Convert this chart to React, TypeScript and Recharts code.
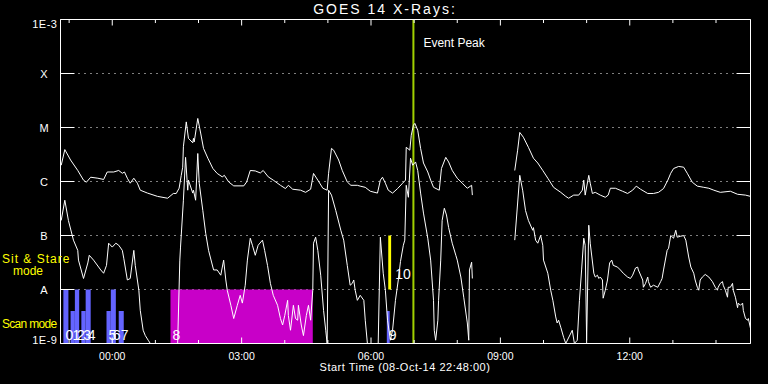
import React from "react";
import {
  LineChart,
  Line,
  XAxis,
  YAxis,
  CartesianGrid,
  ReferenceArea,
  ReferenceLine,
} from "recharts";

// time = minutes after 08-Oct-14 22:48:00, flux in W/m^2
const longChannel: [number, number | null][] = [
  [1, 2.0e-6], [6, 3.9e-6], [14, 2.5e-6], [24, 1.6e-6], [32, 1.06e-6], [36, 9.7e-7], [42, 1.2e-6],
  [52, 1.15e-6], [60, 1.09e-6], [65, 1.5e-6], [74, 1.5e-6], [81, 1.6e-6], [86, 1.42e-6], [89, 1.5e-6],
  [93, 1.15e-6], [97, 9.3e-7], [102, 1.15e-6], [107, 9.3e-7], [111, 6.9e-7], [121, 6.1e-7], [135, 5.3e-7],
  [149, 4.9e-7], [157, 6.0e-7], [161, 6.0e-7], [165, 7.5e-7], [168, 1.3e-6], [170, 1.84e-6], [171, 4.4e-6],
  [175, 1.27e-5], [178, 6.3e-6], [184, 5.2e-6], [185, 6.3e-6], [186, 5.4e-6], [191, 1.47e-5], [195, 7.9e-6],
  [199, 4.1e-6], [205, 2.7e-6], [212, 1.74e-6], [218, 1.41e-6], [225, 1.22e-6], [228, 1.3e-6], [234, 9.8e-7],
  [241, 8.3e-7], [255, 8.3e-7], [259, 9.8e-7], [264, 1.6e-6], [271, 1.57e-6], [278, 1.44e-6], [282, 1.6e-6],
  [289, 1.22e-6], [296, 1.06e-6], [306, 8.5e-7], [313, 7.4e-7], [317, 8.5e-7], [323, 7.2e-7], [334, 6.9e-7],
  [341, 6.3e-7], [348, 7.2e-7], [352, 1.41e-6], [358, 1.06e-6], [365, 7.5e-7], [371, 6.9e-7], [373, 1.42e-6],
  [377, 4.1e-6], [380, 3.8e-6], [387, 2.5e-6], [392, 1.6e-6], [399, 9.8e-7], [404, 8.5e-7], [413, 8.5e-7],
  [417, 8.2e-7], [424, 7.8e-7], [431, 6.6e-7], [441, 6.1e-7], [445, 1.06e-6], [448, 1.2e-6], [452, 9.3e-7],
  [456, 6.9e-7], [462, 6.1e-7], [469, 7.4e-7], [476, 9.3e-7], [480, 1.06e-6], [481, 4.3e-6], [486, 3.8e-6],
  [488, 7.2e-6], [491, 1.1e-5], [493, 1.19e-5], [497, 8.9e-6], [501, 4.1e-6], [505, 2.2e-6], [511, 1.5e-6],
  [515, 1.06e-6], [519, 7.8e-7], [527, 6.9e-7], [530, 1.74e-6], [536, 2.8e-6], [540, 2.3e-6], [545, 1.6e-6],
  [552, 1.15e-6], [559, 9.3e-7], [566, 7.5e-7], [572, 8.5e-7], [573, 5.6e-7], [600, null],
  [632, 1.6e-6], [636, 3.8e-6], [639, 8.1e-6], [644, 6.6e-6], [651, 4.3e-6], [658, 2.7e-6], [664, 2.2e-6],
  [671, 1.6e-6], [678, 1.15e-6], [686, 7.8e-7], [696, 6.3e-7], [703, 5.3e-7], [707, 4.9e-7], [714, 5.6e-7],
  [721, 5.6e-7], [726, 6.9e-7], [728, 1.06e-6], [730, 5.6e-7], [735, 1.3e-6], [737, 9.3e-7], [740, 6.0e-7],
  [744, 6.3e-7], [751, 5.6e-7], [758, 5.1e-7], [762, 5.6e-7], [765, 7.5e-7], [772, 7.5e-7], [782, 6.6e-7],
  [789, 6.0e-7], [796, 6.9e-7], [801, 8.2e-7], [807, 7.2e-7], [817, 6.0e-7], [825, 6.0e-7], [832, 6.3e-7],
  [839, 7.4e-7], [845, 1.06e-6], [849, 1.42e-6], [853, 1.74e-6], [860, 1.9e-6], [867, 1.84e-6], [872, 1.42e-6],
  [879, 9.7e-7], [886, 8.2e-7], [895, 7.8e-7], [902, 7.5e-7], [909, 6.9e-7], [918, 6.3e-7], [932, 6.6e-7],
  [942, 5.8e-7], [953, 5.6e-7], [960, 5.3e-7],
];

const shortChannel: [number, number | null][] = [
  [1, 1.9e-7], [6, 4.5e-7], [11, 1.9e-7], [18, 8.2e-8], [24, 5.3e-8], [25, 3.5e-8], [32, 1.6e-8], [38, 3.1e-8],
  [40, 4.3e-8], [46, 3.5e-8], [56, 2.3e-8], [60, 2.0e-8], [64, 2.8e-8], [67, 7.2e-8], [72, 6.1e-8], [77, 7.2e-8],
  [81, 6.6e-8], [86, 5.3e-8], [88, 3.8e-8], [93, 1.5e-8], [97, 1.6e-8], [102, 5.3e-8], [104, 2.8e-8], [109, 9.7e-9],
  [111, 4.1e-9], [115, 1.76e-9], [118, 1.4e-9], [122, 1.15e-9], [125, 1e-9], [163, 1e-9], [166, 3.5e-8],
  [167, 6.1e-8], [171, 4.5e-7], [174, 2.8e-6], [177, 6.9e-7], [178, 1.06e-6], [184, 6.1e-7], [185, 6.9e-7],
  [188, 4.5e-7], [191, 3.3e-6], [193, 9.3e-7], [198, 2.9e-7], [202, 1.1e-7], [206, 5.3e-8], [213, 2.3e-8],
  [218, 2.3e-8], [223, 1.84e-8], [227, 3.5e-8], [230, 1.5e-8], [232, 9.7e-9], [237, 5.1e-9], [241, 2.9e-9],
  [246, 5.1e-9], [250, 7.8e-9], [253, 5.6e-9], [257, 1.2e-8], [260, 3.5e-8], [264, 8.9e-8], [267, 6.6e-8],
  [271, 4.3e-8], [275, 6.6e-8], [281, 8.2e-8], [284, 5.3e-8], [288, 2.8e-8], [292, 1.3e-8], [296, 7.8e-9],
  [302, 5.1e-9], [306, 2.9e-9], [309, 2.2e-9], [312, 3.3e-9], [316, 6.3e-9], [317, 3.3e-9], [320, 1.76e-9],
  [324, 5.1e-9], [327, 2.9e-9], [330, 2.7e-9], [331, 5.1e-9], [335, 2.2e-9], [338, 1.4e-9], [342, 3.3e-9],
  [345, 5.1e-9], [348, 2.7e-9], [351, 9.7e-9], [352, 7.2e-8], [355, 9.3e-8], [358, 5.3e-8], [362, 1.84e-8],
  [366, 4.1e-9], [369, 1.76e-9], [371, 1e-9], [373, 6.9e-7], [377, 5.6e-7], [383, 2.9e-7], [390, 1.25e-7],
  [394, 8.2e-8], [399, 2.8e-8], [403, 1.2e-8], [406, 1.3e-8], [408, 1.5e-8], [410, 9.7e-9], [413, 6.3e-9],
  [417, 7.8e-9], [422, 6.3e-9], [424, 2.7e-9], [427, 1e-9], [442, 1e-9], [445, 9.3e-8], [449, 2.0e-8],
  [452, 9.7e-9], [455, 2.7e-9], [459, 1.15e-9], [462, 1.76e-9], [466, 6.3e-9], [470, 1.5e-8], [473, 3.3e-8],
  [477, 6.6e-8], [479, 8.2e-8], [481, 8.5e-7], [484, 5.1e-7], [487, 2.7e-6], [490, 2.0e-6], [494, 2.3e-6],
  [497, 1.6e-6], [501, 6.1e-7], [505, 2.6e-7], [511, 8.9e-8], [515, 3.5e-8], [519, 6.3e-9], [520, 1.76e-9],
  [522, 1.15e-9], [525, 2.7e-9], [526, 6.3e-9], [529, 3.5e-8], [531, 1.9e-7], [534, 3.2e-7], [537, 2.4e-7],
  [540, 1.4e-7], [545, 7.2e-8], [550, 4.3e-8], [552, 3.5e-8], [557, 1.7e-8], [561, 7.2e-9], [566, 2.4e-9],
  [568, 1.15e-9], [569, 2.3e-8], [572, 3.2e-8], [573, 1.6e-8], [600, null],
  [632, 8.2e-8], [639, 1.3e-6], [643, 6.9e-7], [647, 2.9e-7], [651, 1.9e-7], [657, 1.25e-7], [658, 1.4e-7],
  [661, 8.2e-8], [664, 7.2e-8], [668, 1.0e-7], [671, 6.6e-8], [672, 3.5e-8], [678, 2.0e-8], [682, 9.7e-9],
  [685, 6.3e-9], [689, 3.1e-9], [691, 2.4e-9], [693, 2.7e-9], [696, 2.0e-9], [700, 1.3e-9], [703, 1e-9],
  [712, 1.76e-9], [715, 1e-9], [719, 1.15e-9], [722, 6.3e-9], [725, 2.3e-8], [728, 8.9e-8], [730, 6.6e-8],
  [732, 1.15e-9], [735, 1.55e-7], [737, 7.2e-8], [742, 2.0e-8], [744, 1.7e-8], [747, 1.84e-8], [749, 1.6e-8],
  [751, 1.7e-8], [754, 1.5e-8], [755, 6.9e-9], [758, 9.7e-9], [761, 1.5e-8], [764, 3.1e-8], [767, 3.5e-8],
  [769, 2.8e-8], [775, 2.6e-8], [779, 2.3e-8], [783, 2.0e-8], [789, 1.7e-8], [793, 1.6e-8], [796, 1.84e-8],
  [800, 2.5e-8], [803, 2.6e-8], [804, 2.3e-8], [810, 1.5e-8], [811, 1.1e-8], [814, 1.3e-8], [817, 1.7e-8],
  [818, 1.4e-8], [821, 1.1e-8], [825, 1.2e-8], [831, 1.1e-8], [835, 1.4e-8], [837, 1.6e-8], [839, 2.3e-8],
  [844, 5.3e-8], [846, 5.8e-8], [849, 1.0e-7], [853, 8.9e-8], [856, 1.25e-7], [858, 9.3e-8], [863, 9.7e-8],
  [867, 1.0e-7], [870, 8.2e-8], [874, 4.0e-8], [877, 2.6e-8], [881, 2.0e-8], [883, 1.5e-8], [886, 1.1e-8],
  [888, 9.7e-9], [890, 1.5e-8], [893, 1.7e-8], [897, 1.9e-8], [902, 1.7e-8], [907, 1.4e-8], [911, 1.1e-8],
  [914, 9.7e-9], [915, 1.1e-8], [918, 1.3e-8], [921, 1.4e-8], [922, 1.2e-8], [925, 9.7e-9], [928, 7.2e-9],
  [929, 1.1e-8], [932, 1.1e-8], [935, 1.3e-8], [936, 9.7e-9], [939, 7.2e-9], [942, 4.6e-9], [943, 5.6e-9],
  [946, 5.1e-9], [949, 5.6e-9], [950, 4.1e-9], [953, 2.9e-9], [956, 2.7e-9], [957, 2.9e-9], [960, 1.9e-9],
];

// scan mode blocks (blue)
const scanStart = [4, 14, 20, 29, 35, 64, 70, 81, 454];
const scanEnd = [11, 20, 26, 35, 42, 70, 77, 88, 458];
const scanTop = [1e-8, 4e-9, 1e-8, 4e-9, 1e-8, 4e-9, 1e-8, 4e-9, 4e-9];
const scanLabels = ["0", "1", "2", "3", "4", "5", "6", "7", "9"];

// magenta block "8"
const block8 = [153, 351];
const block8Top = 1e-8;

// sit & stare block "10"
const stareSpan = [456, 460];
const stareRange = [1e-8, 1e-7];

const eventPeak = 491;

const hourTicks = [12, 72, 132, 192, 252, 312, 372, 432, 492, 552, 612, 672, 732, 792, 852, 912];
const labelledTicks = [72, 252, 432, 612, 792];
const yTicks = [1e-9, 1e-8, 1e-7, 1e-6, 1e-5, 1e-4, 1e-3];
const yLabels = ["1E-9", "A", "B", "C", "M", "X", "1E-3"];

const FONT = "'Liberation Sans', Arial, sans-serif";
const BLUE = "#6464ff";
const MAGENTA = "#c800c8";
const YELLOW = "#ffff00";
const GREEN = "#a0d000";

const longData = longChannel.map(([t, v]) => ({ t, v }));
const shortData = shortChannel.map(([t, v]) => ({ t, v }));

const clock = (m: number) => {
  const tot = (22 * 60 + 48 + m) % 1440;
  const h = Math.floor(tot / 60);
  const mm = tot % 60;
  return `${String(h).padStart(2, "0")}:${String(mm).padStart(2, "0")}`;
};

const BottomTick = (props: any) => {
  const { x, y, payload } = props;
  const major = labelledTicks.includes(payload.value);
  return (
    <g>
      <line x1={x} x2={x} y1={y} y2={y - (major ? 6 : 3.5)} stroke="#fff" />
      {major && (
        <text x={x} y={y + 16} fill="#fff" fontSize={10.5} fontFamily={FONT} textAnchor="middle">
          {clock(payload.value)}
        </text>
      )}
    </g>
  );
};

const TopTick = (props: any) => {
  const { x, y, payload } = props;
  const major = labelledTicks.includes(payload.value);
  return <line x1={x} x2={x} y1={y} y2={y + (major ? 6 : 3.5)} stroke="#fff" />;
};

const LeftTick = (props: any) => {
  const { x, y, payload } = props;
  const i = yTicks.indexOf(payload.value);
  const last = yTicks.length - 1;
  let label;
  if (i === 0 || i === last) {
    label = (
      <text x={x - 3} y={i === 0 ? y : y + 8} fill="#fff" fontSize={11} fontFamily={FONT} textAnchor="end" letterSpacing={0.5}>
        {yLabels[i]}
      </text>
    );
  } else {
    label = (
      <text x={x - 16.5} y={y + 4} fill="#fff" fontSize={11} fontFamily={FONT} textAnchor="middle">
        {yLabels[i]}
      </text>
    );
  }
  return (
    <g>
      <line x1={x} x2={x + 14} y1={y} y2={y} stroke="#fff" />
      {label}
    </g>
  );
};

const RightTick = (props: any) => {
  const { x, y } = props;
  return <line x1={x} x2={x - 14} y1={y} y2={y} stroke="#fff" />;
};

const digit = (value: string, offset = 2, dy = -2) => ({
  value,
  position: "insideBottomLeft" as const,
  offset,
  dy,
  fill: "#fff",
  fontSize: 14,
  fontFamily: FONT,
});

export default function App() {
  return (
    <div style={{ position: "absolute", left: 0, top: 0, width: 768, height: 384, background: "#000" }}>
      <LineChart width={768} height={384} margin={{ top: 18.5, right: 16.5, bottom: 39.5, left: 59.5 }}>
        <CartesianGrid horizontal vertical={false} stroke="#fff" strokeDasharray="1 5" />
        <XAxis
          dataKey="t"
          type="number"
          domain={[0, 960]}
          allowDataOverflow
          ticks={hourTicks}
          interval={0}
          height={1}
          tickSize={0}
          tickMargin={0}
          tickLine={false}
          axisLine={{ stroke: "#fff" }}
          tick={<BottomTick />}
        />
        <XAxis
          xAxisId="top"
          orientation="top"
          dataKey="t"
          type="number"
          domain={[0, 960]}
          allowDataOverflow
          ticks={hourTicks}
          interval={0}
          height={1}
          tickSize={0}
          tickMargin={0}
          tickLine={false}
          axisLine={{ stroke: "#fff" }}
          tick={<TopTick />}
        />
        <YAxis
          type="number"
          scale="log"
          domain={[1e-9, 1e-3]}
          allowDataOverflow
          ticks={yTicks}
          interval={0}
          width={1}
          tickSize={0}
          tickMargin={0}
          tickLine={false}
          axisLine={{ stroke: "#fff" }}
          tick={<LeftTick />}
        />
        <YAxis
          yAxisId="r"
          orientation="right"
          type="number"
          scale="log"
          domain={[1e-9, 1e-3]}
          allowDataOverflow
          ticks={yTicks}
          interval={0}
          width={1}
          tickSize={0}
          tickMargin={0}
          tickLine={false}
          axisLine={{ stroke: "#fff" }}
          tick={<RightTick />}
        />
        {scanStart.map((s, i) => (
          <ReferenceArea
            key={"scan" + i}
            x1={s}
            x2={scanEnd[i]}
            y1={1e-9}
            y2={scanTop[i]}
            fill={BLUE}
            fillOpacity={1}
            stroke="none"
            label={digit(scanLabels[i])}
          />
        ))}
        <ReferenceArea
          x1={block8[0]}
          x2={block8[1]}
          y1={1e-9}
          y2={block8Top}
          fill={MAGENTA}
          fillOpacity={1}
          stroke="none"
          label={digit("8")}
        />
        <ReferenceArea
          x1={stareSpan[0]}
          x2={stareSpan[1]}
          y1={stareRange[0]}
          y2={stareRange[1]}
          fill={YELLOW}
          fillOpacity={1}
          stroke="none"
          label={digit("10", 7, -4)}
        />
        <ReferenceLine
          x={eventPeak}
          stroke={GREEN}
          strokeWidth={2}
          label={{
            value: "Event Peak",
            position: "insideTopLeft",
            offset: 10,
            dy: 9,
            fill: "#fff",
            fontSize: 12,
            fontFamily: FONT,
          }}
        />
        <Line
          data={longData}
          dataKey="v"
          type="linear"
          stroke="#fff"
          strokeWidth={1}
          dot={false}
          activeDot={false}
          connectNulls={false}
          isAnimationActive={false}
        />
        <Line
          data={shortData}
          dataKey="v"
          type="linear"
          stroke="#fff"
          strokeWidth={1}
          dot={false}
          activeDot={false}
          connectNulls={false}
          isAnimationActive={false}
        />
      </LineChart>
      <svg
        width={768}
        height={384}
        style={{ position: "absolute", left: 0, top: 0, pointerEvents: "none" }}
        fontFamily={FONT}
      >
        <text x={385} y={14} fill="#fff" fontSize={14} letterSpacing={2} textAnchor="middle">
          GOES 14 X-Rays:
        </text>
        <text x={2} y={263} fill={YELLOW} fontSize={12} letterSpacing={1}>
          Sit &amp; Stare
        </text>
        <text x={13} y={275} fill={YELLOW} fontSize={12}>
          mode
        </text>
        <text x={2} y={328} fill={YELLOW} fontSize={12} letterSpacing={-0.7}>
          Scan mode
        </text>
        <text x={405} y={371} fill="#fff" fontSize={11} letterSpacing={0.5} textAnchor="middle">
          Start Time (08-Oct-14 22:48:00)
        </text>
      </svg>
    </div>
  );
}
